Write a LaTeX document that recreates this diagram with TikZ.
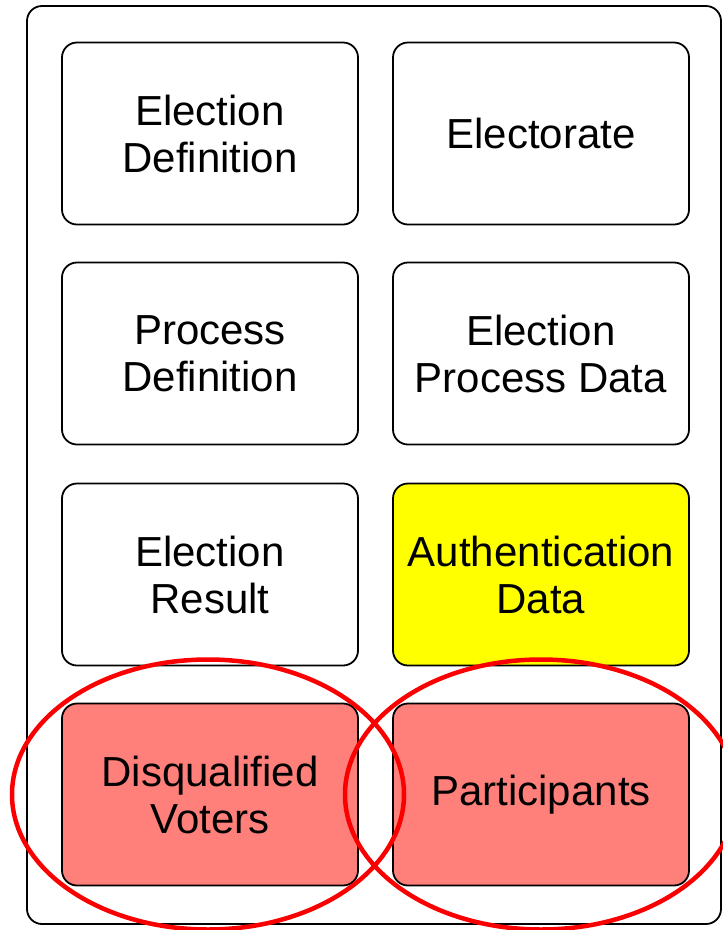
\documentclass[tikz,border=0pt]{standalone}
\usepackage{fontspec}
\setmainfont{Liberation Sans}
\definecolor{authyellow}{RGB}{255,255,0}
\definecolor{voterred}{RGB}{255,128,122}
\definecolor{ringred}{RGB}{250,0,0}
\begin{document}
\begin{tikzpicture}[x=1pt,y=-1pt,
    databox/.style={draw=black, line width=1.8pt, rounded corners=15pt, fill=white,
      minimum width=296pt, minimum height=182pt, align=center,
      font=\fontsize{42}{47}\selectfont, inner sep=0pt},
    ring/.style={draw=ringred, line width=4.5pt}]
    \useasboundingbox (0,0) rectangle (723,930);
    \clip (0,0) rectangle (723,930);
    \draw[line width=1.8pt, rounded corners=15pt] (27,6) rectangle (721,924);

    \node[databox] (eldef)  at (210,133.5) {Election\\Definition};
    \node[databox] (elect)  at (541,133.5) {Electorate};
    \node[databox] (procdef) at (210,353.5) {Process\\Definition};
    \node[databox] (procdata) at (541,353.5) {Election\\Process Data};
    \node[databox] (result) at (210,574.5) {Election\\Result};
    \node[databox, fill=authyellow] (auth) at (541,574.5) {Authentication\\Data};
    \node[databox, fill=voterred] (disq) at (210,794.5) {Disqualified\\Voters};
    \node[databox, fill=voterred] (partic) at (541,794.5) {Participants};

    \draw[ring] (disq.center) ++(-2,0) ellipse [x radius=196pt, y radius=135pt];
    \draw[ring] (partic.center) ellipse [x radius=196pt, y radius=135pt];
\end{tikzpicture}
\end{document}
